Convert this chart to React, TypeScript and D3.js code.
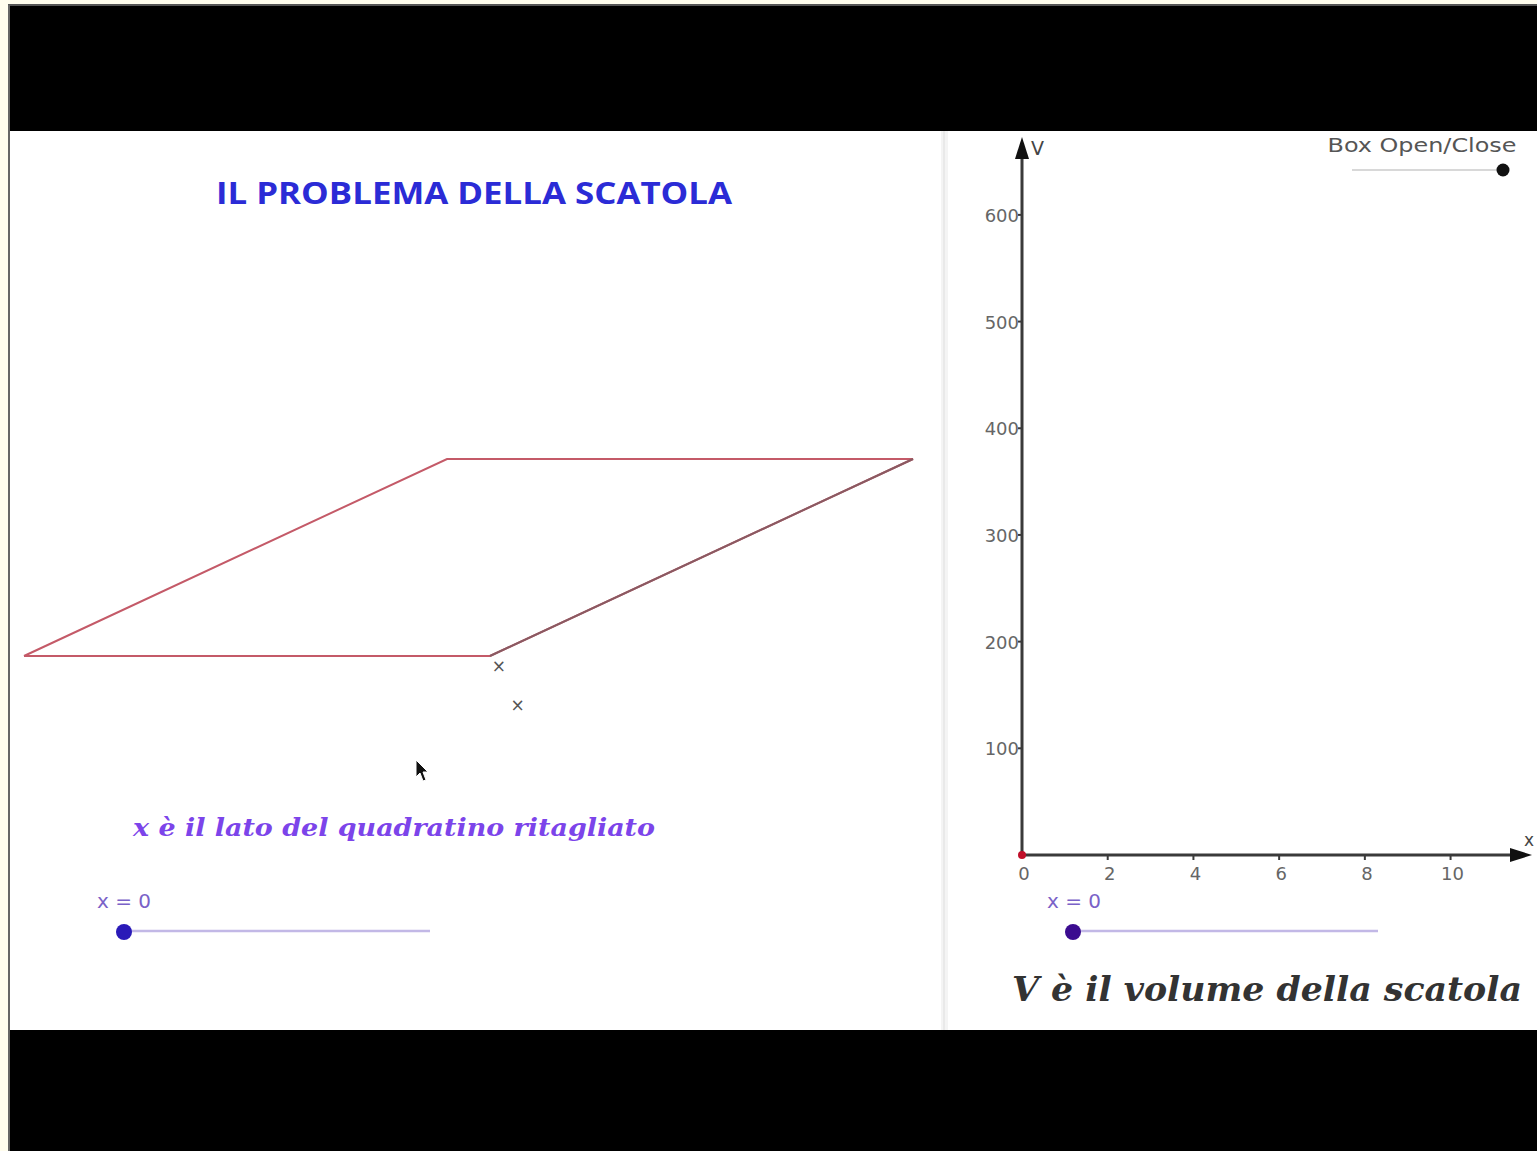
import { useEffect, useRef } from 'react'
import * as d3 from 'd3'

// graph values
const X_TICKS = [0, 2, 4, 6, 8, 10]
const Y_TICKS = [100, 200, 300, 400, 500, 600]
const X_DOMAIN = [0, 11.9]
const Y_DOMAIN = [0, 673]

// flat sheet (before folding), in sheet units: side 20, seen obliquely
const SHEET = [
  [0, 0],
  [20, 0],
  [20, 20],
  [0, 20],
]
// the two cut-corner markers, sheet units
const MARKS = [
  [21.4, -1.12],
  [25.8, -5.08],
]

const SLIDER_VALUE = 0
const SLIDER_DOMAIN = [0, 10]
const BOX_TOGGLE = 1 // open/close slider at the end

export default function App() {
  const svgRef = useRef<SVGSVGElement>(null)

  useEffect(() => {
    document.body.style.margin = '0'
    const svg = d3.select(svgRef.current)
    svg.selectAll('*').remove()

    const W = 1537
    const H = 1151

    // frame
    svg.append('rect').attr('width', W).attr('height', H).attr('fill', '#fffdee')
    svg.append('rect').attr('x', 8).attr('y', 5).attr('width', W - 8).attr('height', H - 5).attr('fill', '#000')
    svg.append('rect').attr('x', 8).attr('y', 4).attr('width', W - 8).attr('height', 2).attr('fill', '#555')
    svg.append('rect').attr('x', 8).attr('y', 131).attr('width', W - 8).attr('height', 899).attr('fill', '#fff')
    svg.append('rect').attr('x', 8).attr('y', 5).attr('width', 2).attr('height', H - 5).attr('fill', '#666')

    // panel separator
    svg.append('rect').attr('x', 941).attr('y', 131).attr('width', 7).attr('height', 899).attr('fill', '#f4f4f4')
    svg.append('line').attr('x1', 944).attr('x2', 944).attr('y1', 131).attr('y2', 1030)
      .attr('stroke', '#e6e6e6').attr('stroke-width', 1.5)

    // ---------- left panel ----------
    svg.append('text')
      .attr('x', 474).attr('y', 204)
      .attr('text-anchor', 'middle')
      .attr('font-family', '"Open Sans", "DejaVu Sans", sans-serif')
      .attr('font-weight', 700)
      .attr('font-size', 30)
      .attr('textLength', 516).attr('lengthAdjust', 'spacingAndGlyphs')
      .attr('fill', '#2b2bd6')
      .text('IL PROBLEMA DELLA SCATOLA')

    // oblique projection of the sheet
    const su = d3.scaleLinear().domain([0, 20]).range([0, 466])
    const depthX = d3.scaleLinear().domain([0, 20]).range([0, 423])
    const depthY = d3.scaleLinear().domain([0, 20]).range([0, -197])
    const ox = 24
    const oy = 656
    const proj = (p: number[]) => [ox + su(p[0]) + depthX(p[1]), oy + depthY(p[1])] as [number, number]

    const sheetPts = SHEET.map(proj)
    svg.append('path')
      .attr('d', d3.line()([...sheetPts, sheetPts[0]]))
      .attr('fill', 'none')
      .attr('stroke', '#c45a68')
      .attr('stroke-width', 2)
    // right edge is darker
    svg.append('line')
      .attr('x1', sheetPts[1][0]).attr('y1', sheetPts[1][1])
      .attr('x2', sheetPts[2][0]).attr('y2', sheetPts[2][1])
      .attr('stroke', '#8a5a62').attr('stroke-width', 2)

    MARKS.forEach(m => {
      const [x, y] = proj(m)
      svg.append('text')
        .attr('x', x).attr('y', y + 5)
        .attr('text-anchor', 'middle')
        .attr('font-family', '"DejaVu Sans", sans-serif')
        .attr('font-size', 17)
        .attr('fill', '#555')
        .text('×')
    })

    // mouse cursor
    svg.append('path')
      .attr('d', 'M416,760 L416,777 L420,773 L423,781 L426,780 L423,772 L428,772 Z')
      .attr('fill', '#111').attr('stroke', '#fff').attr('stroke-width', 1)

    svg.append('text')
      .attr('x', 394).attr('y', 836)
      .attr('text-anchor', 'middle')
      .attr('font-family', '"DejaVu Serif", "Liberation Serif", serif')
      .attr('font-style', 'italic')
      .attr('font-weight', 700)
      .attr('font-size', 25)
      .attr('textLength', 522).attr('lengthAdjust', 'spacingAndGlyphs')
      .attr('fill', '#7c44ea')
      .text('x è il lato del quadratino ritagliato')

    const drawSlider = (x0: number, x1: number, y: number, labelX: number, dotColor: string) => {
      const s = d3.scaleLinear().domain(SLIDER_DOMAIN).range([x0, x1])
      svg.append('text')
        .attr('x', labelX).attr('y', 908)
        .attr('font-family', '"DejaVu Sans", sans-serif')
        .attr('font-size', 20)
        .attr('fill', '#7a62c8')
        .text(`x = ${SLIDER_VALUE}`)
      svg.append('line')
        .attr('x1', s(SLIDER_DOMAIN[0])).attr('x2', s(SLIDER_DOMAIN[1]))
        .attr('y1', y).attr('y2', y)
        .attr('stroke', '#c2b8e6').attr('stroke-width', 2.5)
      svg.append('circle')
        .attr('cx', s(SLIDER_VALUE)).attr('cy', y + 1).attr('r', 8)
        .attr('fill', dotColor)
    }
    drawSlider(124, 430, 931, 97, '#2a1ab8')

    // ---------- right panel: graph ----------
    const x = d3.scaleLinear().domain(X_DOMAIN).range([1022, 1532])
    const y = d3.scaleLinear().domain(Y_DOMAIN).range([855, 137])
    const axisColor = '#3a3a3a'

    // y axis
    svg.append('line')
      .attr('x1', x(0)).attr('x2', x(0)).attr('y1', y(0)).attr('y2', y(Y_DOMAIN[1]) + 18)
      .attr('stroke', axisColor).attr('stroke-width', 3)
    svg.append('path')
      .attr('d', d3.line()([[x(0) - 7, y(Y_DOMAIN[1]) + 22], [x(0), y(Y_DOMAIN[1])], [x(0) + 7, y(Y_DOMAIN[1]) + 22]]) + 'Z')
      .attr('fill', '#111')
    svg.append('text')
      .attr('x', x(0) + 9).attr('y', y(Y_DOMAIN[1]) + 18)
      .attr('font-family', '"DejaVu Sans", sans-serif')
      .attr('font-size', 19).attr('fill', '#444')
      .text('V')

    // x axis
    svg.append('line')
      .attr('x1', x(0)).attr('x2', x(X_DOMAIN[1]) - 18).attr('y1', y(0)).attr('y2', y(0))
      .attr('stroke', axisColor).attr('stroke-width', 3)
    svg.append('path')
      .attr('d', d3.line()([[x(X_DOMAIN[1]) - 22, y(0) - 7], [x(X_DOMAIN[1]), y(0)], [x(X_DOMAIN[1]) - 22, y(0) + 7]]) + 'Z')
      .attr('fill', '#111')
    svg.append('text')
      .attr('x', x(X_DOMAIN[1]) - 8).attr('y', y(0) - 9)
      .attr('font-family', '"DejaVu Sans", sans-serif')
      .attr('font-size', 17).attr('fill', '#444')
      .text('x')

    Y_TICKS.forEach(t => {
      svg.append('line')
        .attr('x1', x(0) - 4).attr('x2', x(0)).attr('y1', y(t)).attr('y2', y(t))
        .attr('stroke', axisColor).attr('stroke-width', 2)
      svg.append('text')
        .attr('x', x(0) - 3).attr('y', y(t) + 7)
        .attr('text-anchor', 'end')
        .attr('font-family', '"DejaVu Sans", sans-serif')
        .attr('font-size', 18).attr('fill', '#666')
        .text(t)
    })
    X_TICKS.forEach(t => {
      if (t > 0) {
        svg.append('line')
          .attr('x1', x(t)).attr('x2', x(t)).attr('y1', y(0)).attr('y2', y(0) + 5)
          .attr('stroke', axisColor).attr('stroke-width', 2)
      }
      svg.append('text')
        .attr('x', x(t) + 2).attr('y', y(0) + 25)
        .attr('text-anchor', 'middle')
        .attr('font-family', '"DejaVu Sans", sans-serif')
        .attr('font-size', 18).attr('fill', '#666')
        .text(t)
    })

    // current point V(0) = 0
    svg.append('circle').attr('cx', x(0)).attr('cy', y(0)).attr('r', 4).attr('fill', '#c0102a')

    // box open/close toggle
    svg.append('text')
      .attr('x', 1422).attr('y', 152)
      .attr('text-anchor', 'middle')
      .attr('font-family', '"DejaVu Sans", sans-serif')
      .attr('font-size', 19).attr('fill', '#555')
      .attr('textLength', 189).attr('lengthAdjust', 'spacingAndGlyphs')
      .text('Box Open/Close')
    const tog = d3.scaleLinear().domain([0, 1]).range([1352, 1503])
    svg.append('line')
      .attr('x1', tog(0)).attr('x2', tog(1)).attr('y1', 170).attr('y2', 170)
      .attr('stroke', '#d8d8d8').attr('stroke-width', 2)
    svg.append('circle').attr('cx', tog(BOX_TOGGLE)).attr('cy', 170).attr('r', 6.5).attr('fill', '#111')

    drawSlider(1073, 1378, 931, 1047, '#3b0c90')

    svg.append('text')
      .attr('x', 1267).attr('y', 1001)
      .attr('text-anchor', 'middle')
      .attr('font-family', '"DejaVu Serif", "Liberation Serif", serif')
      .attr('font-style', 'italic')
      .attr('font-weight', 700)
      .attr('font-size', 33)
      .attr('textLength', 510).attr('lengthAdjust', 'spacingAndGlyphs')
      .attr('fill', '#333')
      .text('V è il volume della scatola')
  }, [])

  return (
    <svg
      ref={svgRef}
      width={1537}
      height={1151}
      style={{ position: 'absolute', left: 0, top: 0, display: 'block' }}
    />
  )
}
